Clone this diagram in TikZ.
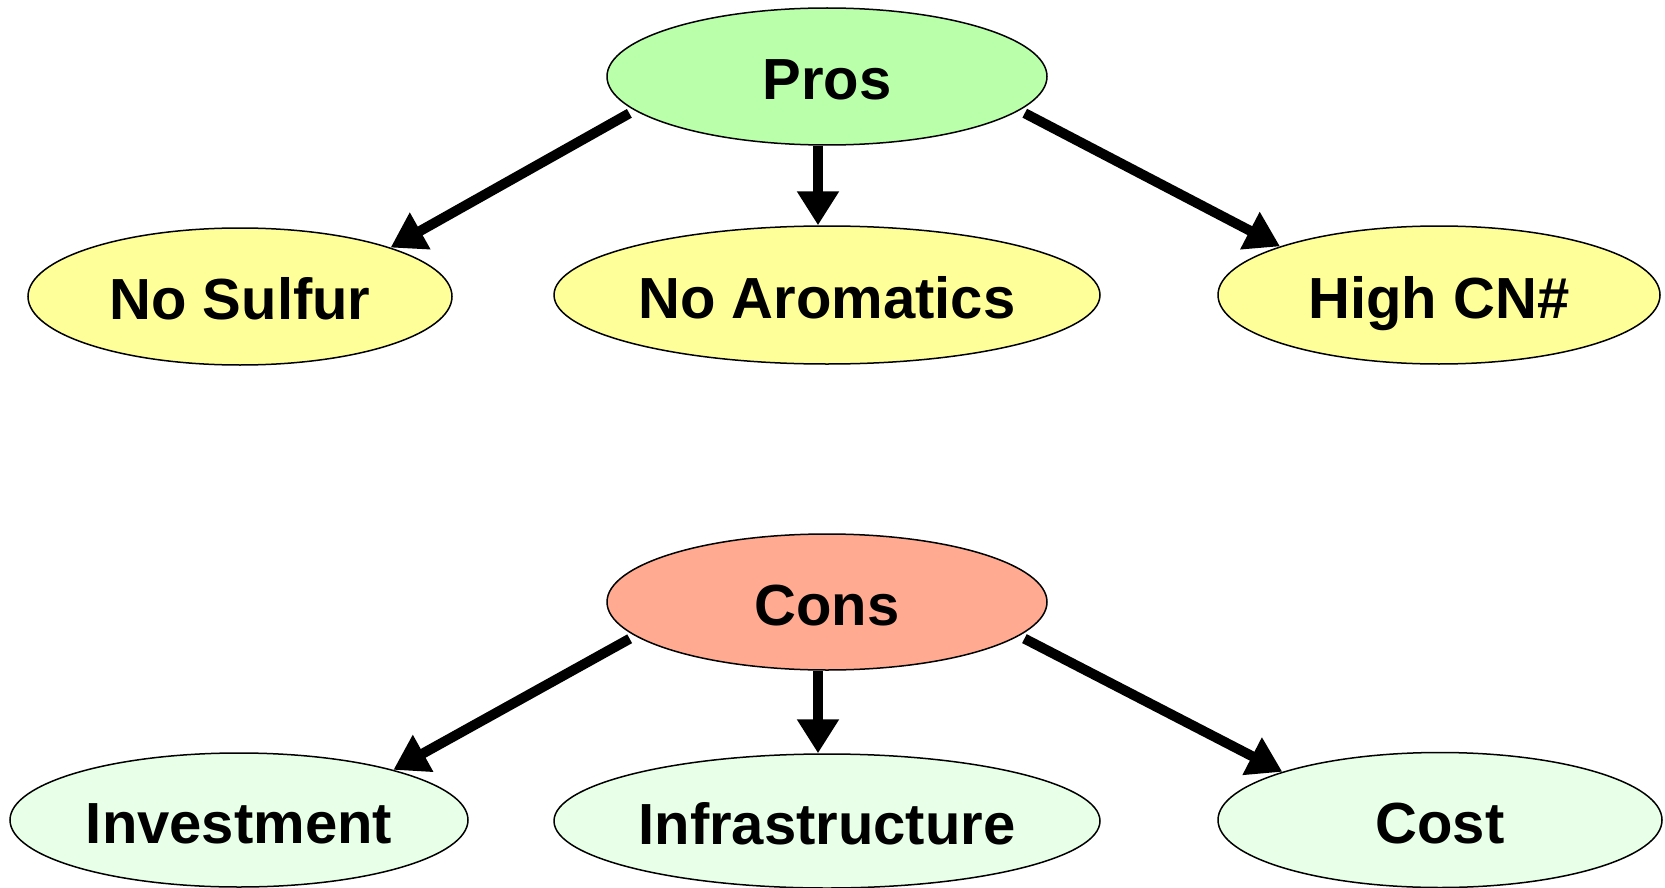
\documentclass[tikz,border=0pt]{standalone}
\usepackage{fontspec}
\setmainfont{Liberation Sans}
\usetikzlibrary{shapes.geometric,arrows.meta}

\tikzset{every picture/.style={line width=0.75pt}}

\begin{document}
\begin{tikzpicture}[x=0.5pt,y=0.5pt,yscale=-1,xscale=1,
  bubble/.style={draw,ellipse,inner sep=0pt,text height=28pt,text depth=5pt,font=\fontsize{29}{34}\selectfont\bfseries},
  arr/.style={line width=5pt,-{Triangle[length=17pt,width=20pt]}}]
\useasboundingbox (0,0) rectangle (1665,888);

% Pros and its children
\node [bubble,fill={rgb, 255:red, 186; green, 255; blue, 170 },minimum width=220pt,minimum height=68.5pt] (pros) at (827,76.5) {Pros};
\node [bubble,fill={rgb, 255:red, 255; green, 255; blue, 153 },minimum width=212pt,minimum height=68.5pt] (nosulfur) at (240,296.5) {No Sulfur};
\node [bubble,fill={rgb, 255:red, 255; green, 255; blue, 153 },minimum width=273pt,minimum height=69pt] (noarom) at (827,295) {No Aromatics};
\node [bubble,fill={rgb, 255:red, 255; green, 255; blue, 153 },minimum width=221pt,minimum height=69pt] (highcn) at (1439,295) {High CN\#};

% Cons and its children
\node [bubble,fill={rgb, 255:red, 255; green, 170; blue, 145 },minimum width=220pt,minimum height=68pt] (cons) at (827,602) {Cons};
\node [bubble,fill={rgb, 255:red, 232; green, 255; blue, 232 },minimum width=229pt,minimum height=67pt] (invest) at (239,820) {Investment};
\node [bubble,fill={rgb, 255:red, 232; green, 255; blue, 232 },minimum width=273pt,minimum height=67pt] (infra) at (827,821) {Infrastructure};
\node [bubble,fill={rgb, 255:red, 232; green, 255; blue, 232 },minimum width=222pt,minimum height=67.5pt] (cost) at (1440,820) {Cost};

% Arrows
\draw [arr,shorten <=3pt] (pros.190) -- (nosulfur.18);
\draw [arr] ([xshift=-4.5pt]pros.south) -- ([xshift=-4.5pt]noarom.north);
\draw [arr,shorten <=3pt] (pros.350) -- (highcn.163);
\draw [arr,shorten <=3pt] (cons.190) -- (invest.18);
\draw [arr] ([xshift=-4.5pt]cons.south) -- ([xshift=-4.5pt]infra.north);
\draw [arr,shorten <=3pt] (cons.350) -- (cost.163);

\end{tikzpicture}
\end{document}
